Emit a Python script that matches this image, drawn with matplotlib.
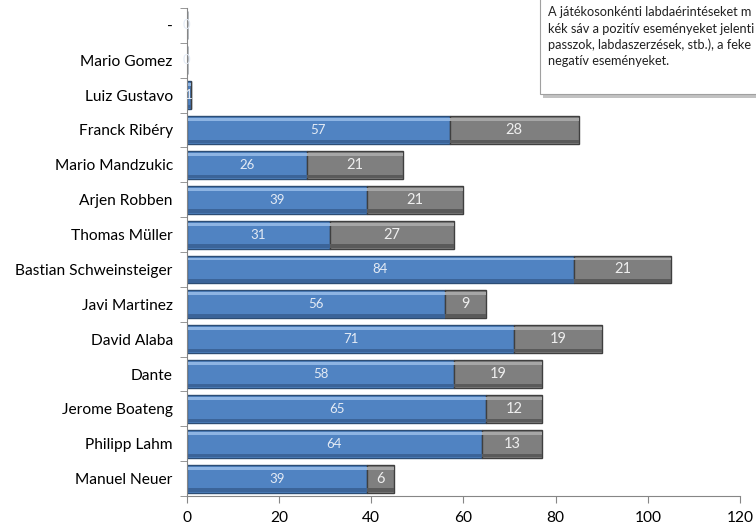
import numpy as np
import matplotlib.pyplot as plt
from matplotlib.patches import Rectangle

# jatekosok alulrol felfele
players = ['Manuel Neuer', 'Philipp Lahm', 'Jerome Boateng', 'Dante', 'David Alaba',
           'Javi Martinez', 'Bastian Schweinsteiger', 'Thomas Müller', 'Arjen Robben',
           'Mario Mandzukic', 'Franck Ribéry', 'Luiz Gustavo', 'Mario Gomez', '-']
positive = [39, 64, 65, 58, 71, 56, 84, 31, 39, 26, 57, 1, 0, 0]
negative = [6, 13, 12, 19, 19, 9, 21, 27, 21, 21, 28, 0, 0, 0]
note_lines = ['A játékosonkénti labdaérintéseket m',
              'kék sáv a pozitív eseményeket jelenti',
              'passzok, labdaszerzések, stb.), a feke',
              'negatív eseményeket.']

plt.rcParams['font.family'] = ['Lato', 'DejaVu Sans']

fig = plt.figure(figsize=(7.56, 5.3), dpi=100)
ax = fig.add_axes([0.247, 0.064, 0.732, 0.921])

y = np.arange(len(players))
h = 0.8
blue = '#5083c2'
gray = '#7f7f7f'

ax.barh(y, positive, height=h, color=blue, edgecolor='#2c4d75', linewidth=1.0)
ax.barh(y, negative, left=positive, height=h, color=gray, edgecolor='#3f3f3f', linewidth=1.0)

# "bevel": vilagos csik fent, sotet csik lent
ax.barh(y + h / 2 - 0.1, positive, height=0.08, color='#8db4e3', linewidth=0)
ax.barh(y + h / 2 - 0.1, negative, left=positive, height=0.08, color='#a6a6a6', linewidth=0)
ax.barh(y - h / 2 + 0.07, positive, height=0.1, color='#3b6499', linewidth=0)
ax.barh(y - h / 2 + 0.07, negative, left=positive, height=0.1, color='#5a5a5a', linewidth=0)

for i in range(len(players)):
    ax.text(positive[i] / 2, y[i], str(positive[i]), ha='center', va='center',
            color='#e4ebf5', fontsize=9.5)
    if negative[i] > 0:
        ax.text(positive[i] + negative[i] / 2, y[i], str(negative[i]), ha='center',
                va='center', color='#eeeeee', fontsize=10.5)

ax.set_xlim(0, 120)
ax.set_ylim(-0.5, len(players) - 0.5)
ax.set_xticks(range(0, 121, 20))
ax.set_yticks(y)
ax.set_yticklabels(players)
ax.set_yticks(np.arange(-0.5, len(players)), minor=True)
ax.tick_params(axis='y', which='major', length=0, labelsize=11.2, pad=10)
ax.tick_params(axis='y', which='minor', length=5, color='#868686')
ax.tick_params(axis='x', length=5, color='#868686', labelsize=11.2, pad=6)
for s in ['top', 'right']:
    ax.spines[s].set_visible(False)
for s in ['left', 'bottom']:
    ax.spines[s].set_color('#868686')

# megjegyzes doboz
shadow = Rectangle((0.718, 0.815), 0.3, 0.2, transform=fig.transFigure,
                   facecolor='#9a9a9a', edgecolor='none', alpha=0.6)
box = Rectangle((0.714, 0.822), 0.3, 0.2, transform=fig.transFigure,
                facecolor='white', edgecolor='#a0a0a0', linewidth=0.8)
fig.add_artist(shadow)
fig.add_artist(box)
for k, line in enumerate(note_lines):
    fig.text(0.725, 0.977 - k * 0.031, line, fontsize=9.2, va='center', color='#222222')

fig.savefig('out.png', dpi=100)
